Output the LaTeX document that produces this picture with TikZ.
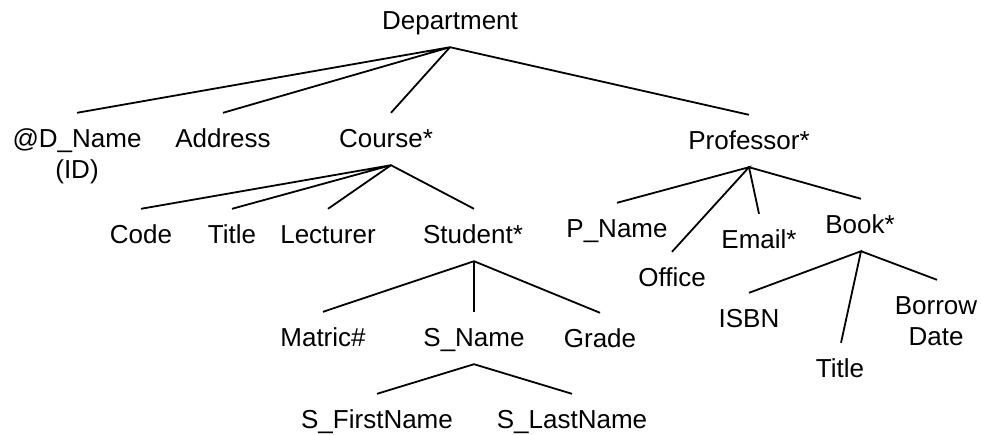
\documentclass[tikz,border=0pt]{standalone}
\usepackage{fontspec}
\setmainfont{Liberation Sans}
\begin{document}
\begin{tikzpicture}[x=1pt,y=-1pt,
  lbl/.style={font=\fontsize{26}{31}\selectfont, anchor=base, align=center,
    text height=19pt, text depth=3pt, inner xsep=0pt, inner ysep=15pt},
  % two-line labels sit on the baseline of their last line
  twoline/.style={text height=50pt},
  edge/.style={draw=black, line width=1.8pt}]
\useasboundingbox (0,0) rectangle (981,434);

% root
\node[lbl] (dept) at (450,29) {Department};

% first level
\node[lbl, twoline] (dname) at (77,178) {@D\_Name\\(ID)};
\node[lbl] (addr) at (223,147) {Address};
\node[lbl] (course) at (386,147) {Course*};
\node[lbl] (prof) at (749,149) {Professor*};

% children of Course*
\node[lbl] (code) at (141,243) {Code};
\node[lbl] (ctitle) at (232,243) {Title};
\node[lbl] (lect) at (328,243) {Lecturer};
\node[lbl] (student) at (473,243) {Student*};

% children of Student*
\node[lbl] (matric) at (323,346) {Matric\#};
\node[lbl] (sname) at (474,346) {S\_Name};
\node[lbl] (grade) at (600,347) {Grade};

% children of S_Name
\node[lbl] (sfirst) at (377,428) {S\_FirstName};
\node[lbl] (slast) at (572,428) {S\_LastName};

% children of Professor*
\node[lbl] (pname) at (617,237) {P\_Name};
\node[lbl] (office) at (672,286) {Office};
\node[lbl] (email) at (759,248) {Email*};
\node[lbl] (book) at (860,233) {Book*};

% children of Book*
\node[lbl] (isbn) at (749,327) {ISBN};
\node[lbl] (btitle) at (840,377) {Title};
\node[lbl, twoline] (borrow) at (936,345) {Borrow\\Date};

% connectors
\draw[edge] (dname.north) -- (dept.south) -- (addr.north);
\draw[edge] (dept.south) -- ([xshift=5pt]course.north);
\draw[edge] (dept.south) -- (prof.north);

\draw[edge] (code.north) -- ([xshift=5pt]course.south) -- (ctitle.north);
\draw[edge] (lect.north) -- ([xshift=5pt]course.south) -- ([xshift=1pt]student.north);

\draw[edge] (matric.north) -- ([xshift=1pt]student.south) -- (grade.north);
\draw[edge] ([xshift=1pt]student.south) -- (sname.north);

\draw[edge] (sfirst.north) -- (sname.south) -- (slast.north);

\draw[edge] (pname.north) -- (prof.south) -- (office.north);
\draw[edge] (email.north) -- (prof.south) -- ([xshift=1pt]book.north);

\draw[edge] (isbn.north) -- ([xshift=1pt]book.south) -- ([xshift=1pt]btitle.north);
\draw[edge] ([xshift=1pt]book.south) -- ([xshift=1pt]borrow.north);
\end{tikzpicture}
\end{document}
